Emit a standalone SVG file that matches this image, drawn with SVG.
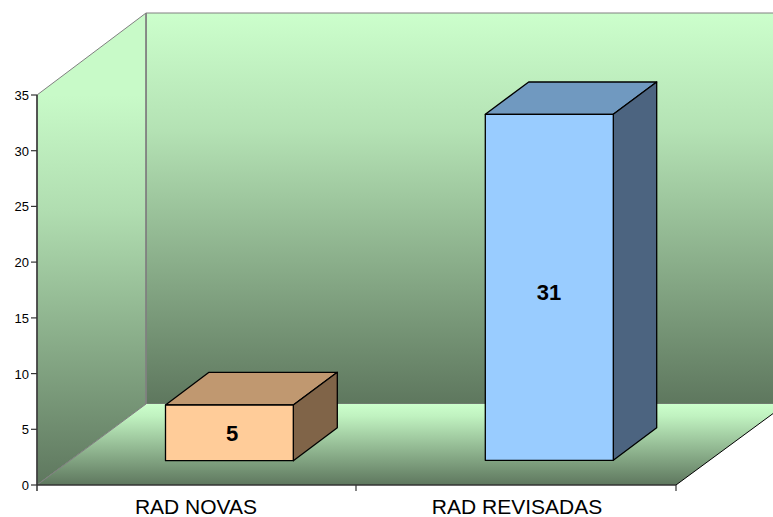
<svg xmlns="http://www.w3.org/2000/svg" width="773" height="517" viewBox="0 0 773 517">
<defs>
<linearGradient id="gWall" x1="0" y1="13" x2="0" y2="404" gradientUnits="userSpaceOnUse">
<stop offset="0" stop-color="#CCFFCC"/><stop offset="0.3" stop-color="#B4E2B4"/><stop offset="1" stop-color="#5E775E"/>
</linearGradient>
<linearGradient id="gLeft" x1="0" y1="95" x2="0" y2="485" gradientUnits="userSpaceOnUse">
<stop offset="0" stop-color="#C8FAC8"/><stop offset="0.3" stop-color="#B0DDB0"/><stop offset="1" stop-color="#5E775E"/>
</linearGradient>
<linearGradient id="gFloor" x1="0" y1="404" x2="0" y2="485" gradientUnits="userSpaceOnUse">
<stop offset="0" stop-color="#CCFFCC"/><stop offset="0.15" stop-color="#C0F2C0"/><stop offset="1" stop-color="#5E775E"/>
</linearGradient>
<style>
.ax{font-family:"Liberation Sans",Arial,sans-serif;font-size:13px;fill:#000;text-anchor:end}
.cat{font-family:"Liberation Sans",Arial,sans-serif;font-size:21px;fill:#000;text-anchor:middle}
.val{font-family:"Liberation Sans",Arial,sans-serif;font-size:22px;font-weight:bold;fill:#000;text-anchor:middle}
.edge{stroke:#000;stroke-width:1.3;stroke-linejoin:round}
</style>
</defs>
<rect width="773" height="517" fill="#FFFFFF"/>
<g id="chart-area">
<polygon points="146,13 790,13 790,404 146,404" fill="url(#gWall)" stroke="#808080" stroke-width="1"/>
<polygon points="37,95 146,13 146,404 37,485" fill="url(#gLeft)" stroke="#808080" stroke-width="1"/>
<polygon points="37,485 146,404 786,404 676,485" fill="url(#gFloor)"/>
<line x1="146" y1="13" x2="146" y2="404" stroke="#808080" stroke-width="1.5"/>
<line x1="37" y1="485" x2="146" y2="404" stroke="#808080" stroke-width="1"/>
<line x1="676" y1="485" x2="786" y2="404" stroke="#000" stroke-width="1"/>
</g>
<g id="axes">
<line x1="37" y1="95" x2="37" y2="491" stroke="#333" stroke-width="1.5"/>
<line x1="37" y1="485" x2="676" y2="485" stroke="#333" stroke-width="1.5"/>
<g stroke="#333" stroke-width="1.2">
<line x1="31" y1="95" x2="37" y2="95"/>
<line x1="31" y1="150.7" x2="37" y2="150.7"/>
<line x1="31" y1="206.4" x2="37" y2="206.4"/>
<line x1="31" y1="262.1" x2="37" y2="262.1"/>
<line x1="31" y1="317.9" x2="37" y2="317.9"/>
<line x1="31" y1="373.6" x2="37" y2="373.6"/>
<line x1="31" y1="429.3" x2="37" y2="429.3"/>
<line x1="31" y1="485" x2="37" y2="485"/>
<line x1="356" y1="485" x2="356" y2="491"/>
<line x1="676" y1="485" x2="676" y2="491"/>
</g>
<text class="ax" x="29" y="100">35</text>
<text class="ax" x="29" y="155.7">30</text>
<text class="ax" x="29" y="211.4">25</text>
<text class="ax" x="29" y="267.1">20</text>
<text class="ax" x="29" y="322.9">15</text>
<text class="ax" x="29" y="378.6">10</text>
<text class="ax" x="29" y="434.3">5</text>
<text class="ax" x="29" y="490">0</text>
<text class="cat" x="196" y="514">RAD NOVAS</text>
<text class="cat" x="517" y="514">RAD REVISADAS</text>
</g>
<g id="bar-rad-novas">
<polygon class="edge" points="165.5,405 209,372.3 337.3,372.3 293.3,405" fill="#C09870"/>
<polygon class="edge" points="293.3,405 337.3,372.3 337.3,427.7 293.3,460.7" fill="#806448"/>
<rect class="edge" x="165.5" y="405" width="127.8" height="55.7" fill="#FFCC99"/>
<text class="val" x="232" y="441">5</text>
</g>
<g id="bar-rad-revisadas">
<polygon class="edge" points="485.3,114.3 528.7,82 656.7,82 613.3,114.3" fill="#7099C0"/>
<polygon class="edge" points="613.3,114.3 656.7,82 656.7,427.7 613.3,460.3" fill="#4C6480"/>
<rect class="edge" x="485.3" y="114.3" width="128" height="346" fill="#99CCFF"/>
<text class="val" x="549" y="300">31</text>
</g>
</svg>
